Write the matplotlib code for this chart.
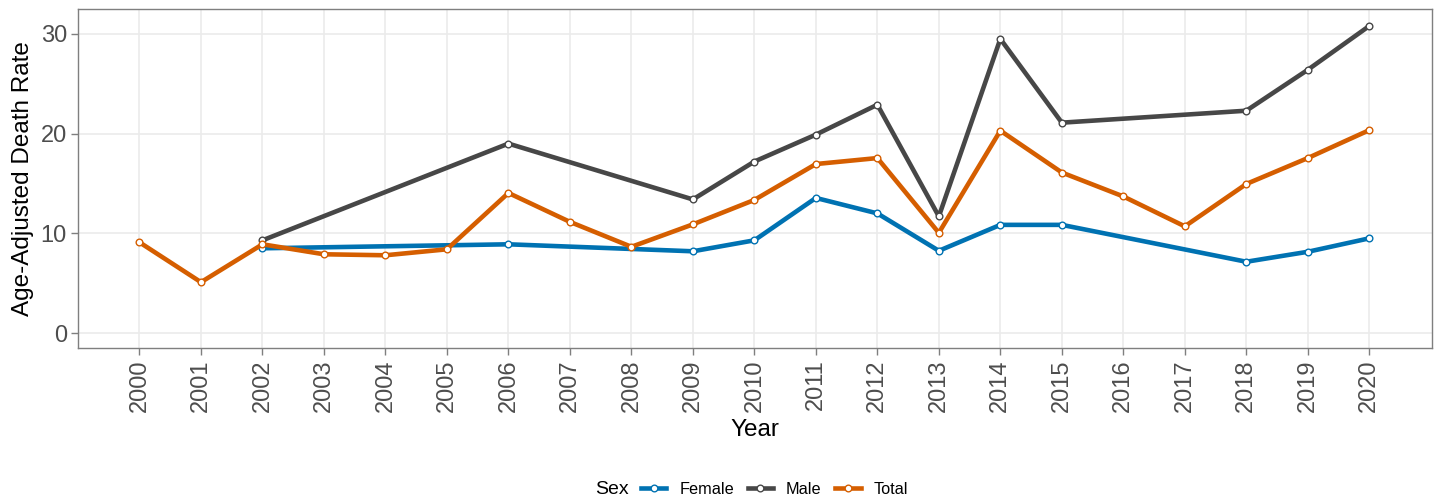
import matplotlib
matplotlib.use("Agg")
import matplotlib.pyplot as plt
from matplotlib.lines import Line2D

plt.rcParams['font.family'] = ['Liberation Sans', 'DejaVu Sans']

years_all = list(range(2000, 2021))
tick_labels = [str(y) for y in years_all]

female_years = [2002, 2006, 2009, 2010, 2011, 2012, 2013, 2014, 2015, 2018, 2019, 2020]
female_vals = [8.5, 8.9, 8.2, 9.3, 13.55, 12.0, 8.25, 10.85, 10.85, 7.15, 8.15, 9.5]

male_years = [2002, 2006, 2009, 2010, 2011, 2012, 2013, 2014, 2015, 2018, 2019, 2020]
male_vals = [9.3, 19.0, 13.4, 17.2, 19.9, 22.9, 11.7, 29.5, 21.1, 22.3, 26.4, 30.8]

total_years = list(range(2000, 2021))
total_vals = [9.1, 5.1, 8.9, 7.9, 7.8, 8.4, 14.05, 11.15, 8.65, 10.9, 13.35,
              16.95, 17.55, 10.05, 20.3, 16.1, 13.7, 10.7, 14.95, 17.55, 20.35]

series = [("Female", female_years, female_vals, "#0072B2"),
          ("Male", male_years, male_vals, "#474747"),
          ("Total", total_years, total_vals, "#D55E00")]

fig = plt.figure(figsize=(14.39, 5.01), dpi=100)
ax = fig.add_axes([78/1439, 1 - 348/501, (1432-78)/1439, (348-9)/501])

for name, xs, ys, col in series:
    ax.plot(xs, ys, color=col, lw=3.3, marker='o', markersize=4.8,
            markerfacecolor='white', markeredgecolor=col, markeredgewidth=1.0,
            label=name, solid_joinstyle='round', zorder=3)

ax.set_xlim(1999.0, 2021.02)
ax.set_ylim(-1.5, 32.5)
ax.set_xticks(years_all)
ax.set_xticklabels(tick_labels, rotation=90)
ax.set_yticks([0, 10, 20, 30])
ax.grid(True, color='#EBEBEB', lw=1.2, zorder=0)
ax.set_axisbelow(True)
for s in ax.spines.values():
    s.set_color('#7F7F7F')
    s.set_linewidth(1.0)
ax.tick_params(axis='both', colors='#7F7F7F', labelcolor='#4D4D4D',
               labelsize=17, length=5, width=1.0)
ax.tick_params(axis='x', pad=3)
ax.tick_params(axis='y', pad=3)

ax.set_xlabel("Year", fontsize=17.5, color='black', labelpad=5)
ax.set_ylabel("Age-Adjusted Death Rate", fontsize=17.5, color='black', labelpad=5)

fig.text(595/1439, 1 - 489/501, "Sex", fontsize=14, va='center', ha='left')
handles = [Line2D([], [], color=c, lw=3.3, marker='o', markersize=4.8,
                  markerfacecolor='white', markeredgecolor=c, markeredgewidth=1.0)
           for _, _, _, c in series]
labels = [n for n, _, _, _ in series]
fig.legend(handles, labels, loc='center left', bbox_to_anchor=(641/1439, 1 - 489/501),
           ncol=3, frameon=False, fontsize=11.7, handlelength=1.55,
           handletextpad=0.8, columnspacing=0.85, borderpad=0, borderaxespad=0)

fig.savefig("out.png", dpi=100, facecolor='white')
